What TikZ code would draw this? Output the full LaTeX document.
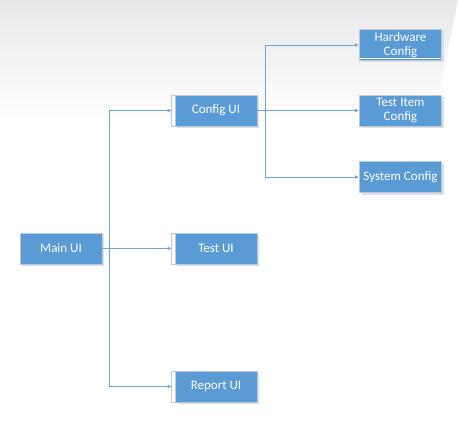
\documentclass[tikz,border=0pt]{standalone}
\usepackage{fontspec}
\setmainfont{Carlito}
\usetikzlibrary{arrows.meta,calc}
\definecolor{boxblue}{RGB}{91,155,213}
\definecolor{lineblue}{RGB}{110,165,215}
\definecolor{shadowc}{RGB}{215,225,238}
\definecolor{edgec}{RGB}{190,200,210}
\definecolor{topgray}{RGB}{232,232,232}
\begin{document}
\begin{tikzpicture}[x=1pt,y=-1pt,
  uibox/.style={draw=edgec,line width=0.6pt,fill=boxblue,text=white,minimum width=82pt,minimum height=31pt,inner sep=1pt,align=center,font=\fontsize{13}{13.5}\selectfont},
  conn/.style={draw=lineblue,line width=0.9pt,-{Latex[length=4pt,width=3.5pt]}},
  plain/.style={draw=lineblue,line width=0.9pt}]
\useasboundingbox (0,0) rectangle (469,436);
\fill[white] (0,0) rectangle (469,436);
\shade[top color=topgray,bottom color=white] (0,0) -- (458,0) -- (432,125) -- (0,125) -- cycle;
% shadows
\foreach \cx/\cy in {61/248.5,216/110.5,216/248.5,216/386.5,400.5/45,400.5/110.5,400.5/177}
  \fill[shadowc] (\cx-39,\cy-13.5) rectangle (\cx+43,\cy+17.5);
% brackets
\foreach \cy in {110.5,248.5,386.5}
  \draw[edgec,line width=0.6pt] (175,\cy-15.5) -- (171,\cy-15.5) -- (171,\cy+15.5) -- (175,\cy+15.5);
\node[uibox] (main) at (61,248.5) {Main UI};
\node[uibox] (config) at (216,110.5) {Config UI};
\node[uibox] (test) at (216,248.5) {Test UI};
\node[uibox] (report) at (216,386.5) {Report UI};
\node[uibox] (hw) at (400.5,45) {Hardware\\Config};
\node[uibox] (ti) at (400.5,110.5) {Test Item\\Config};
\node[uibox] (sys) at (400.5,177) {System Config};
\draw[white,line width=0.8pt] ($(hw.south west)+(1,-2)$) -- ($(hw.south east)+(-1,-2)$);
\coordinate (j1) at (109,248.5);
\coordinate (j2) at (265,110.5);
\draw[plain] (main.east) -- (j1);
\draw[conn] (j1) |- ($(config.west)+(-3,0)$);
\draw[conn] (main.east) -- ($(test.west)+(-3,0)$);
\draw[conn] (j1) |- ($(report.west)+(-3,0)$);
\draw[plain] (config.east) -- (j2);
\draw[conn] (j2) |- (hw.west);
\draw[conn] (config.east) -- (ti.west);
\draw[conn] (j2) |- (sys.west);
\end{tikzpicture}
\end{document}
